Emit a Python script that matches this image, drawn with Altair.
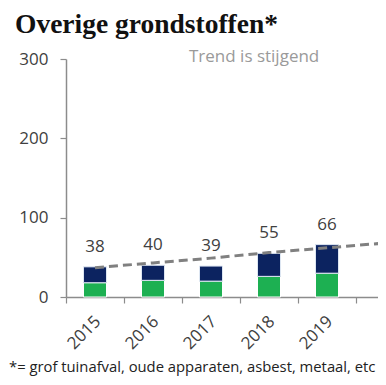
import altair as alt
import pandas as pd

years = ["2015", "2016", "2017", "2018", "2019"]
green_vals = [18, 21, 20, 26, 30]
totals = [38, 40, 39, 55, 66]
trend_years = ["2015", "2016", "2017", "2018", "2019", "2020"]
trend_vals = [37, 43, 49, 56, 62, 68]
title_text = "Overige grondstoffen*"
trend_text = "Trend is stijgend"
footnote_text = "*= grof tuinafval, oude apparaten, asbest, metaal, etc"

bars = pd.DataFrame({"year": years, "green": green_vals, "total": totals})
trend = pd.DataFrame({"year": trend_years, "value": trend_vals})

FONT = "Open Sans"
TXT = "#404040"

xscale = alt.Scale(domain=trend_years, range=[0, 348], paddingInner=0, paddingOuter=0)
yscale = alt.Scale(domain=[0, 300])

xenc = alt.X(
    "year:N",
    scale=xscale,
    sort=trend_years,
    axis=alt.Axis(
        title=None, labelAngle=-45, tickBand="extent", tickSize=6, labelPadding=10,
        labelFontSize=17, labelFont=FONT, labelColor=TXT, domainColor="#8c8c8c",
        tickColor="#8c8c8c", domainWidth=1.5, tickWidth=1.2, labelOffset=-3,
        labelExpr="datum.value == '2020' ? '' : datum.value",
    ),
)

base = alt.Chart(bars)

green = base.mark_bar(width=23, color="#1db052", stroke="white", strokeWidth=1).encode(
    x=xenc,
    y=alt.Y("green:Q", scale=yscale, axis=alt.Axis(
        title=None, values=[0, 100, 200, 300], grid=False, tickSize=6, labelPadding=12,
        labelFontSize=17, labelFont=FONT, labelColor=TXT, domainColor="#8c8c8c",
        tickColor="#8c8c8c", domainWidth=1.5, tickWidth=1.2)),
    y2=alt.Y2("zero:Q"),
).transform_calculate(zero="0")

navy = base.mark_bar(width=23, color="#0c2360", stroke="#dde6f2", strokeWidth=1).encode(
    x=alt.X("year:N", scale=xscale, sort=trend_years),
    y=alt.Y("total:Q", scale=yscale),
    y2="green:Q",
)

labels = base.mark_text(dy=-20, fontSize=17, font=FONT, color=TXT, baseline="middle").encode(
    x=alt.X("year:N", scale=xscale, sort=trend_years),
    y=alt.Y("total:Q", scale=yscale),
    text="total:Q",
)

trend_line = alt.Chart(trend).mark_line(color="#808080", strokeWidth=3, strokeDash=[9, 5]).encode(
    x=alt.X("year:N", scale=xscale, sort=trend_years),
    y=alt.Y("value:Q", scale=yscale),
)

def txt(text, x, y, size, color, font, weight="normal"):
    return alt.Chart(pd.DataFrame({"t": [text]})).mark_text(
        align="left", baseline="alphabetic", fontSize=size, font=font, color=color, fontWeight=weight
    ).encode(x=alt.value(x), y=alt.value(y), text="t:N")

title = txt(title_text, -51, -26, 27.5, "#111111", "Liberation Serif", "bold")
trend_lbl = txt(trend_text, 123, 3, 17, "#9a9a9a", FONT)
foot = txt(footnote_text, -57, 313, 14.8, "#222222", FONT)

chart = alt.layer(green, navy, trend_line, labels, title, trend_lbl, foot).properties(
    width=312, height=238,
    autosize=alt.AutoSizeParams(type="none"),
    padding={"left": 58, "top": 51, "right": 0, "bottom": 80},
).configure_view(stroke=None)

chart.save("out.html", embed_options={"renderer": "svg", "actions": False})
